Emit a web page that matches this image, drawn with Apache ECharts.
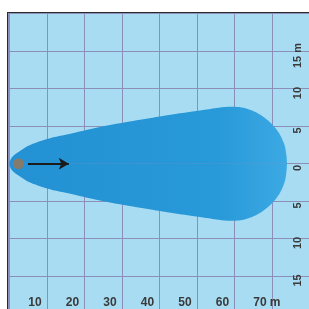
<!DOCTYPE html>
<html>
<head>
<meta charset="utf-8">
<script src="https://cdn.jsdelivr.net/npm/echarts@6/dist/echarts.min.js"></script>
<style>
    html, body { margin: 0; padding: 0; background: #ffffff; }
    #chart { width: 309px; height: 309px; }
</style>
</head>
<body>
<div id="chart"></div>
<script>
// beam outline, metres: distance ahead of the lamp and half width either side
const beamX    = [3.1, 3.9, 6.0, 8.7, 14.0, 18.5, 27.3, 36.1, 43.3, 54.0, 62.8, 67.3, 71.3, 74.5, 76.4, 77.0, 77.2];
const beamHalf = [0,   0.9, 1.7, 2.5, 3.4,  3.9,  4.9,  5.7,  6.3,  7.1,  7.6,  7.2,  6.1,  4.5,  2.7,  1.3,  0];

// lamp position and the direction arrow (metres)
const lamp  = [5.6, 0];
const arrow = [[8.1, 0], [19.0, 0]];

// tick labels
const distTicks = [10, 20, 30, 40, 50, 60, 70, 74];
const sideTicks = [-15, -10, -5, 0, 5, 10, 15];

const upper = beamX.map((x, i) => [x, beamHalf[i]]);
const lower = beamX.map((x, i) => [x, -beamHalf[i]]);

const chart = echarts.init(document.getElementById('chart'));

const beamFill = new echarts.graphic.LinearGradient(0, 0, 1, 0, [
    {offset: 0, color: '#2391d3'},
    {offset: 0.75, color: '#2899d9'},
    {offset: 1, color: '#3ca9e3'}
]);

const labelFont = {
    fontFamily: 'Liberation Sans, Arial, sans-serif',
    fontWeight: 'bold',
    color: '#3a3a3a'
};

chart.setOption({
    animation: false,
    grid: {
        left: 8, top: 13, right: -20, bottom: -20,
        outerBoundsMode: 'none',
        containLabel: false,
        show: true,
        backgroundColor: '#a8dcf2',
        borderColor: '#2a2a2a',
        borderWidth: 2
    },
    xAxis: [
        {
            // metre scale used for the beam and the bottom labels
            type: 'value', min: 2.8, max: 88.4, position: 'bottom',
            axisLine: {show: false, onZero: false},
            axisTick: {show: false},
            splitLine: {show: false},
            axisLabel: Object.assign({
                inside: true, margin: 20, fontSize: 12,
                customValues: distTicks,
                formatter: v => v === 74 ? 'm' : String(v)
            }, labelFont)
        },
        {
            // grid lines
            type: 'value', min: -0.4, max: 85.2, position: 'top',
            minInterval: 10, maxInterval: 10,
            axisLine: {show: false, onZero: false},
            axisTick: {show: false},
            axisLabel: {show: false},
            splitLine: {show: true, lineStyle: {color: '#8d8fbb', width: 1}}
        }
    ],
    yAxis: [
        {
            type: 'value', min: -22.04, max: 20.09, position: 'left',
            minInterval: 5, maxInterval: 5,
            axisLine: {show: false, onZero: false},
            axisTick: {show: false},
            axisLabel: {show: false},
            splitLine: {show: true, lineStyle: {color: '#8d8fbb', width: 1}}
        },
        {
            type: 'value', min: -21.47, max: 20.67, position: 'right',
            axisLine: {show: false, onZero: false},
            axisTick: {show: false},
            splitLine: {show: false},
            axisLabel: Object.assign({
                inside: true, margin: 26, fontSize: 11, rotate: 90,
                customValues: sideTicks,
                formatter: v => v === 15 ? '15 m' : String(Math.abs(v))
            }, labelFont)
        }
    ],
    series: [
        {
            type: 'line', data: upper, smooth: 0.4,
            xAxisIndex: 0, yAxisIndex: 0,
            symbol: 'none', lineStyle: {width: 0},
            areaStyle: {color: beamFill, opacity: 1},
            silent: true
        },
        {
            type: 'line', data: lower, smooth: 0.4,
            xAxisIndex: 0, yAxisIndex: 0,
            symbol: 'none', lineStyle: {width: 0},
            areaStyle: {color: beamFill, opacity: 1},
            silent: true
        },
        {
            type: 'scatter', data: [lamp], z: 5,
            xAxisIndex: 0, yAxisIndex: 0,
            symbolSize: 11,
            itemStyle: {color: '#857b6c', opacity: 1},
            silent: true,
            markLine: {
                silent: true,
                symbol: ['none', 'arrow'],
                symbolSize: [9, 10],
                label: {show: false},
                lineStyle: {color: '#1b1b1b', width: 2, type: 'solid'},
                data: [[{coord: arrow[0]}, {coord: arrow[1]}]]
            }
        }
    ]
});
</script>
</body>
</html>
